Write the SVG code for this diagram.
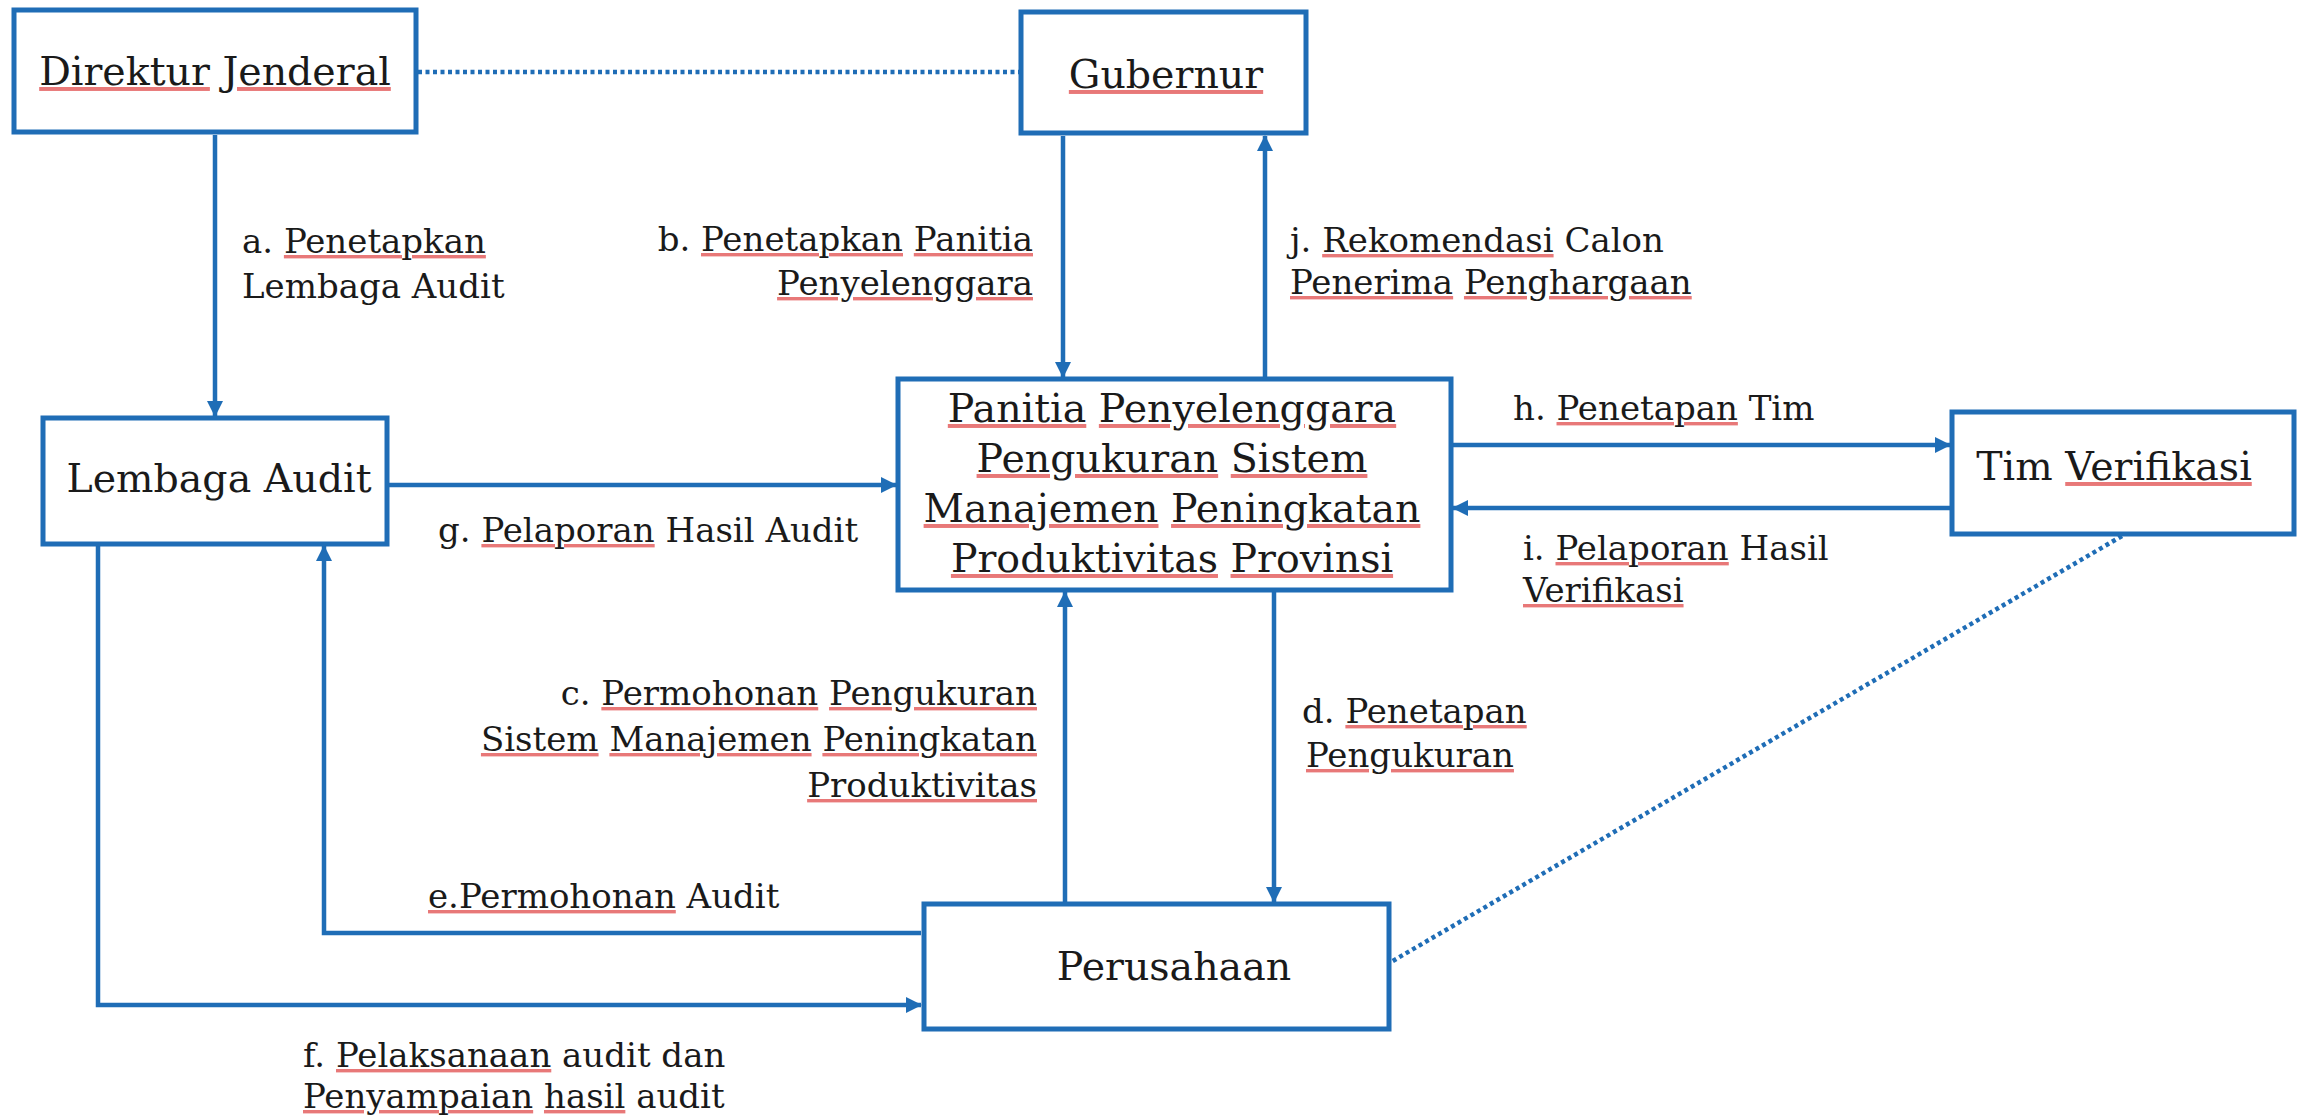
<svg xmlns="http://www.w3.org/2000/svg" width="2298" height="1117" viewBox="0 0 2298 1117">
<style>
.box{fill:#fff;stroke:#1f6db6;stroke-width:5}
.con{fill:none;stroke:#1f6db6;stroke-width:4.5}
.dot{fill:none;stroke:#1f6db6;stroke-width:4.5;stroke-dasharray:4 3.5}
.nt{font-family:"DejaVu Serif","Liberation Serif",serif;font-size:39.5px;fill:#1a1a1a;text-anchor:middle}
.lb{font-family:"DejaVu Serif","Liberation Serif",serif;font-size:34px;fill:#1a1a1a}
.end{text-anchor:end}
.sq{fill:#e87878;text-decoration:underline wavy;text-decoration-thickness:1.5px;text-underline-offset:5px}
.w{fill:#1a1a1a}
</style>
<defs>
<marker id="ah" markerUnits="userSpaceOnUse" markerWidth="17" markerHeight="17" refX="15" refY="8" orient="auto">
<path d="M0,0 L16,8 L0,16 z" fill="#1f6db6"/>
</marker>
</defs>
<rect width="2298" height="1117" fill="#fff"/>
<g id="connectors">
<path class="dot" d="M418,72 H1019"/>
<path class="dot" d="M2122,536 L1391,962"/>
<path class="con" d="M215,135 V416" marker-end="url(#ah)"/>
<path class="con" d="M1063,136 V377" marker-end="url(#ah)"/>
<path class="con" d="M1265,377 V136" marker-end="url(#ah)"/>
<path class="con" d="M389,485 H896" marker-end="url(#ah)"/>
<path class="con" d="M1453,445 H1950" marker-end="url(#ah)"/>
<path class="con" d="M1950,508 H1453" marker-end="url(#ah)"/>
<path class="con" d="M1065,902 V592" marker-end="url(#ah)"/>
<path class="con" d="M1274,592 V902" marker-end="url(#ah)"/>
<path class="con" d="M921,933 H324 V546" marker-end="url(#ah)"/>
<path class="con" d="M98,546 V1005 H921" marker-end="url(#ah)"/>
</g>
<g id="labels">
<text class="lb" x="242" y="253">a. <tspan class="sq"><tspan class="w">Penetapkan</tspan></tspan></text>
<text class="lb" x="242" y="298">Lembaga Audit</text>
<text class="lb end" x="1033" y="251">b. <tspan class="sq"><tspan class="w">Penetapkan</tspan></tspan> <tspan class="sq"><tspan class="w">Panitia</tspan></tspan></text>
<text class="lb end" x="1033" y="295"><tspan class="sq"><tspan class="w">Penyelenggara</tspan></tspan></text>
<text class="lb" x="1290" y="252">j. <tspan class="sq"><tspan class="w">Rekomendasi</tspan></tspan> Calon</text>
<text class="lb" x="1290" y="294"><tspan class="sq"><tspan class="w">Penerima</tspan></tspan> <tspan class="sq"><tspan class="w">Penghargaan</tspan></tspan></text>
<text class="lb" x="438" y="542">g. <tspan class="sq"><tspan class="w">Pelaporan</tspan></tspan> Hasil Audit</text>
<text class="lb" x="1513" y="420">h. <tspan class="sq"><tspan class="w">Penetapan</tspan></tspan> Tim</text>
<text class="lb" x="1523" y="560">i. <tspan class="sq"><tspan class="w">Pelaporan</tspan></tspan> Hasil</text>
<text class="lb" x="1523" y="602"><tspan class="sq"><tspan class="w">Verifikasi</tspan></tspan></text>
<text class="lb end" x="1037" y="705">c. <tspan class="sq"><tspan class="w">Permohonan</tspan></tspan> <tspan class="sq"><tspan class="w">Pengukuran</tspan></tspan></text>
<text class="lb end" x="1037" y="751"><tspan class="sq"><tspan class="w">Sistem</tspan></tspan> <tspan class="sq"><tspan class="w">Manajemen</tspan></tspan> <tspan class="sq"><tspan class="w">Peningkatan</tspan></tspan></text>
<text class="lb end" x="1037" y="797"><tspan class="sq"><tspan class="w">Produktivitas</tspan></tspan></text>
<text class="lb" x="1302" y="723">d. <tspan class="sq"><tspan class="w">Penetapan</tspan></tspan></text>
<text class="lb" x="1306" y="767"><tspan class="sq"><tspan class="w">Pengukuran</tspan></tspan></text>
<text class="lb" x="428" y="908"><tspan class="sq"><tspan class="w">e.Permohonan</tspan></tspan> Audit</text>
<text class="lb" x="303" y="1067">f. <tspan class="sq"><tspan class="w">Pelaksanaan</tspan></tspan> audit dan</text>
<text class="lb" x="303" y="1108"><tspan class="sq"><tspan class="w">Penyampaian</tspan></tspan> <tspan class="sq"><tspan class="w">hasil</tspan></tspan> audit</text>
</g>
<g id="node-direktur">
<rect class="box" x="14" y="10" width="402" height="122"/>
<text class="nt" x="215" y="85"><tspan class="sq"><tspan class="w">Direktur</tspan></tspan> <tspan class="sq"><tspan class="w">Jenderal</tspan></tspan></text>
</g>
<g id="node-gubernur">
<rect class="box" x="1021" y="12" width="285" height="121"/>
<text class="nt" x="1166" y="88"><tspan class="sq"><tspan class="w">Gubernur</tspan></tspan></text>
</g>
<g id="node-lembaga">
<rect class="box" x="43" y="418" width="344" height="126"/>
<text class="nt" x="219" y="492">Lembaga Audit</text>
</g>
<g id="node-panitia">
<rect class="box" x="898" y="379" width="553" height="211"/>
<text class="nt" x="1172" y="422"><tspan class="sq"><tspan class="w">Panitia</tspan></tspan> <tspan class="sq"><tspan class="w">Penyelenggara</tspan></tspan></text>
<text class="nt" x="1172" y="472"><tspan class="sq"><tspan class="w">Pengukuran</tspan></tspan> <tspan class="sq"><tspan class="w">Sistem</tspan></tspan></text>
<text class="nt" x="1172" y="522"><tspan class="sq"><tspan class="w">Manajemen</tspan></tspan> <tspan class="sq"><tspan class="w">Peningkatan</tspan></tspan></text>
<text class="nt" x="1172" y="572"><tspan class="sq"><tspan class="w">Produktivitas</tspan></tspan> <tspan class="sq"><tspan class="w">Provinsi</tspan></tspan></text>
</g>
<g id="node-tim">
<rect class="box" x="1952" y="412" width="342" height="122"/>
<text class="nt" x="2114" y="480">Tim <tspan class="sq"><tspan class="w">Verifikasi</tspan></tspan></text>
</g>
<g id="node-perusahaan">
<rect class="box" x="924" y="904" width="465" height="125"/>
<text class="nt" x="1174" y="980">Perusahaan</text>
</g>
</svg>
